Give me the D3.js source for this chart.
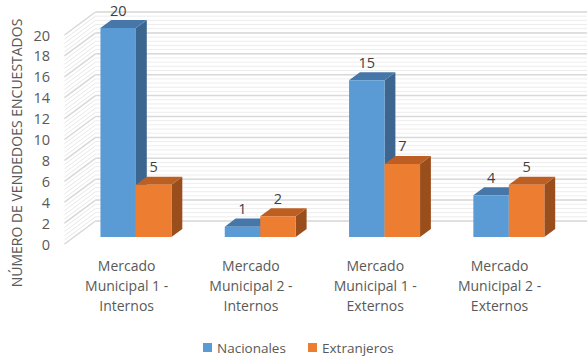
<!DOCTYPE html>
<html>
<head>
<meta charset="utf-8">
<script src="https://cdn.jsdelivr.net/npm/d3@7"></script>
<style>
  html, body { margin: 0; padding: 0; background: #fff; }
  svg { display: block; font-family: "Open Sans", "Liberation Sans", sans-serif; }
</style>
</head>
<body>
<svg id="chart" width="587" height="356"></svg>
<script>
// Survey counts per market group
const categories = [
  ["Mercado", "Municipal 1 -", "Internos"],
  ["Mercado", "Municipal 2 -", "Internos"],
  ["Mercado", "Municipal 1 -", "Externos"],
  ["Mercado", "Municipal 2 -", "Externos"]
];
const seriesNames = ["Nacionales", "Extranjeros"];
const nacionales = [20, 1, 15, 4];
const extranjeros = [5, 2, 7, 5];
const yTicks = [0, 2, 4, 6, 8, 10, 12, 14, 16, 18, 20];
const yTitle = "NÚMERO DE VENDEDOES ENCUESTADOS";

const colors = {
  Nacionales: { front: "#5b9bd5", top: "#4677a8", side: "#3c6690" },
  Extranjeros: { front: "#ed7d31", top: "#bd5f22", side: "#9a4e1c" }
};

const svg = d3.select("#chart");

// Oblique 3D projection: depth z in [0,1] moves right and up
const DX = 31, DY = 23;
const x = d3.scaleBand().domain(d3.range(categories.length)).range([64.5, 561.7]);
const y = d3.scaleLinear().domain([0, 20]).range([244, 35]);
const P = (sx, sy, z) => [sx + z * DX, sy - z * DY];

const textColor = "#595959";

// Back wall and left side wall, with fine stripes and major gridlines
const x0 = x.range()[0], x1 = x.range()[1];
const walls = svg.append("g");
const minor = d3.range(0, 20.001, 0.4);
walls.selectAll("line.minorBack").data(minor).join("line")
  .attr("x1", x0 + DX).attr("x2", x1 + DX)
  .attr("y1", d => y(d) - DY).attr("y2", d => y(d) - DY)
  .attr("stroke", "#ededed").attr("stroke-width", 1);
walls.selectAll("line.minorSide").data(minor).join("line")
  .attr("x1", x0).attr("y1", d => y(d))
  .attr("x2", x0 + DX).attr("y2", d => y(d) - DY)
  .attr("stroke", "#e8e8e8").attr("stroke-width", 1);
walls.selectAll("line.majorBack").data(yTicks).join("line")
  .attr("x1", x0 + DX).attr("x2", x1 + DX)
  .attr("y1", d => y(d) - DY).attr("y2", d => y(d) - DY)
  .attr("stroke", "#d9d9d9").attr("stroke-width", 1.5);
walls.selectAll("line.majorSide").data(yTicks).join("line")
  .attr("x1", x0).attr("y1", d => y(d))
  .attr("x2", x0 + DX).attr("y2", d => y(d) - DY)
  .attr("stroke", "#d9d9d9").attr("stroke-width", 1.5);

// Y-axis tick labels
svg.append("g").selectAll("text").data(yTicks).join("text")
  .attr("x", 50).attr("y", d => y(d))
  .attr("text-anchor", "end").attr("dominant-baseline", "central")
  .attr("font-size", 14.5).attr("fill", textColor)
  .text(d => d);

// Y-axis title
svg.append("text")
  .attr("transform", "translate(16,153) rotate(-90)")
  .attr("text-anchor", "middle").attr("dominant-baseline", "central")
  .attr("font-size", 14).attr("fill", textColor)
  .text(yTitle);

// 3D bars
const barW = 35.5, zFront = 0.3, zBack = 0.65;
const rows = [];
categories.forEach((c, i) => {
  [nacionales, extranjeros].forEach((vals, s) => {
    rows.push({ i, s, name: seriesNames[s], v: vals[i] });
  });
});
const bars = svg.append("g");
const pts = a => a.map(p => p.join(",")).join(" ");
rows.forEach(r => {
  const cx = x(r.i) + x.bandwidth() / 2;
  const left = r.s === 0 ? cx - barW : cx;
  const right = left + barW;
  const yt = y(r.v), yb = y(0);
  const c = colors[r.name];
  const fTL = P(left, yt, zFront), fTR = P(right, yt, zFront);
  const fBL = P(left, yb, zFront), fBR = P(right, yb, zFront);
  const bTL = P(left, yt, zBack), bTR = P(right, yt, zBack), bBR = P(right, yb, zBack);
  const g = bars.append("g");
  g.append("polygon").attr("points", pts([fTR, bTR, bBR, fBR])).attr("fill", c.side);
  g.append("polygon").attr("points", pts([fTL, bTL, bTR, fTR])).attr("fill", c.top);
  g.append("polygon").attr("points", pts([fTL, fTR, fBR, fBL])).attr("fill", c.front);
  // value label above the bar
  g.append("text")
    .attr("x", (fTL[0] + fTR[0]) / 2).attr("y", bTL[1] - 10)
    .attr("text-anchor", "middle").attr("dominant-baseline", "central")
    .attr("font-size", 14.5).attr("fill", "#404040")
    .text(r.v);
});

// Category labels
const catG = svg.append("g").selectAll("text").data(categories).join("text")
  .attr("text-anchor", "middle")
  .attr("font-size", 14).attr("fill", textColor);
catG.each(function (lines, i) {
  const cx = x(i) + x.bandwidth() / 2;
  d3.select(this).selectAll("tspan").data(lines).join("tspan")
    .attr("x", cx).attr("y", (d, k) => 265 + k * 20)
    .attr("dominant-baseline", "central")
    .text(d => d);
});

// Legend
const legend = svg.append("g");
const legendX = [203, 308];
seriesNames.forEach((n, k) => {
  legend.append("rect").attr("x", legendX[k]).attr("y", 343)
    .attr("width", 9).attr("height", 9).attr("fill", colors[n].front);
  legend.append("text").attr("x", legendX[k] + 14).attr("y", 347.5)
    .attr("dominant-baseline", "central")
    .attr("font-size", 13.5).attr("fill", textColor).text(n);
});
</script>
</body>
</html>
